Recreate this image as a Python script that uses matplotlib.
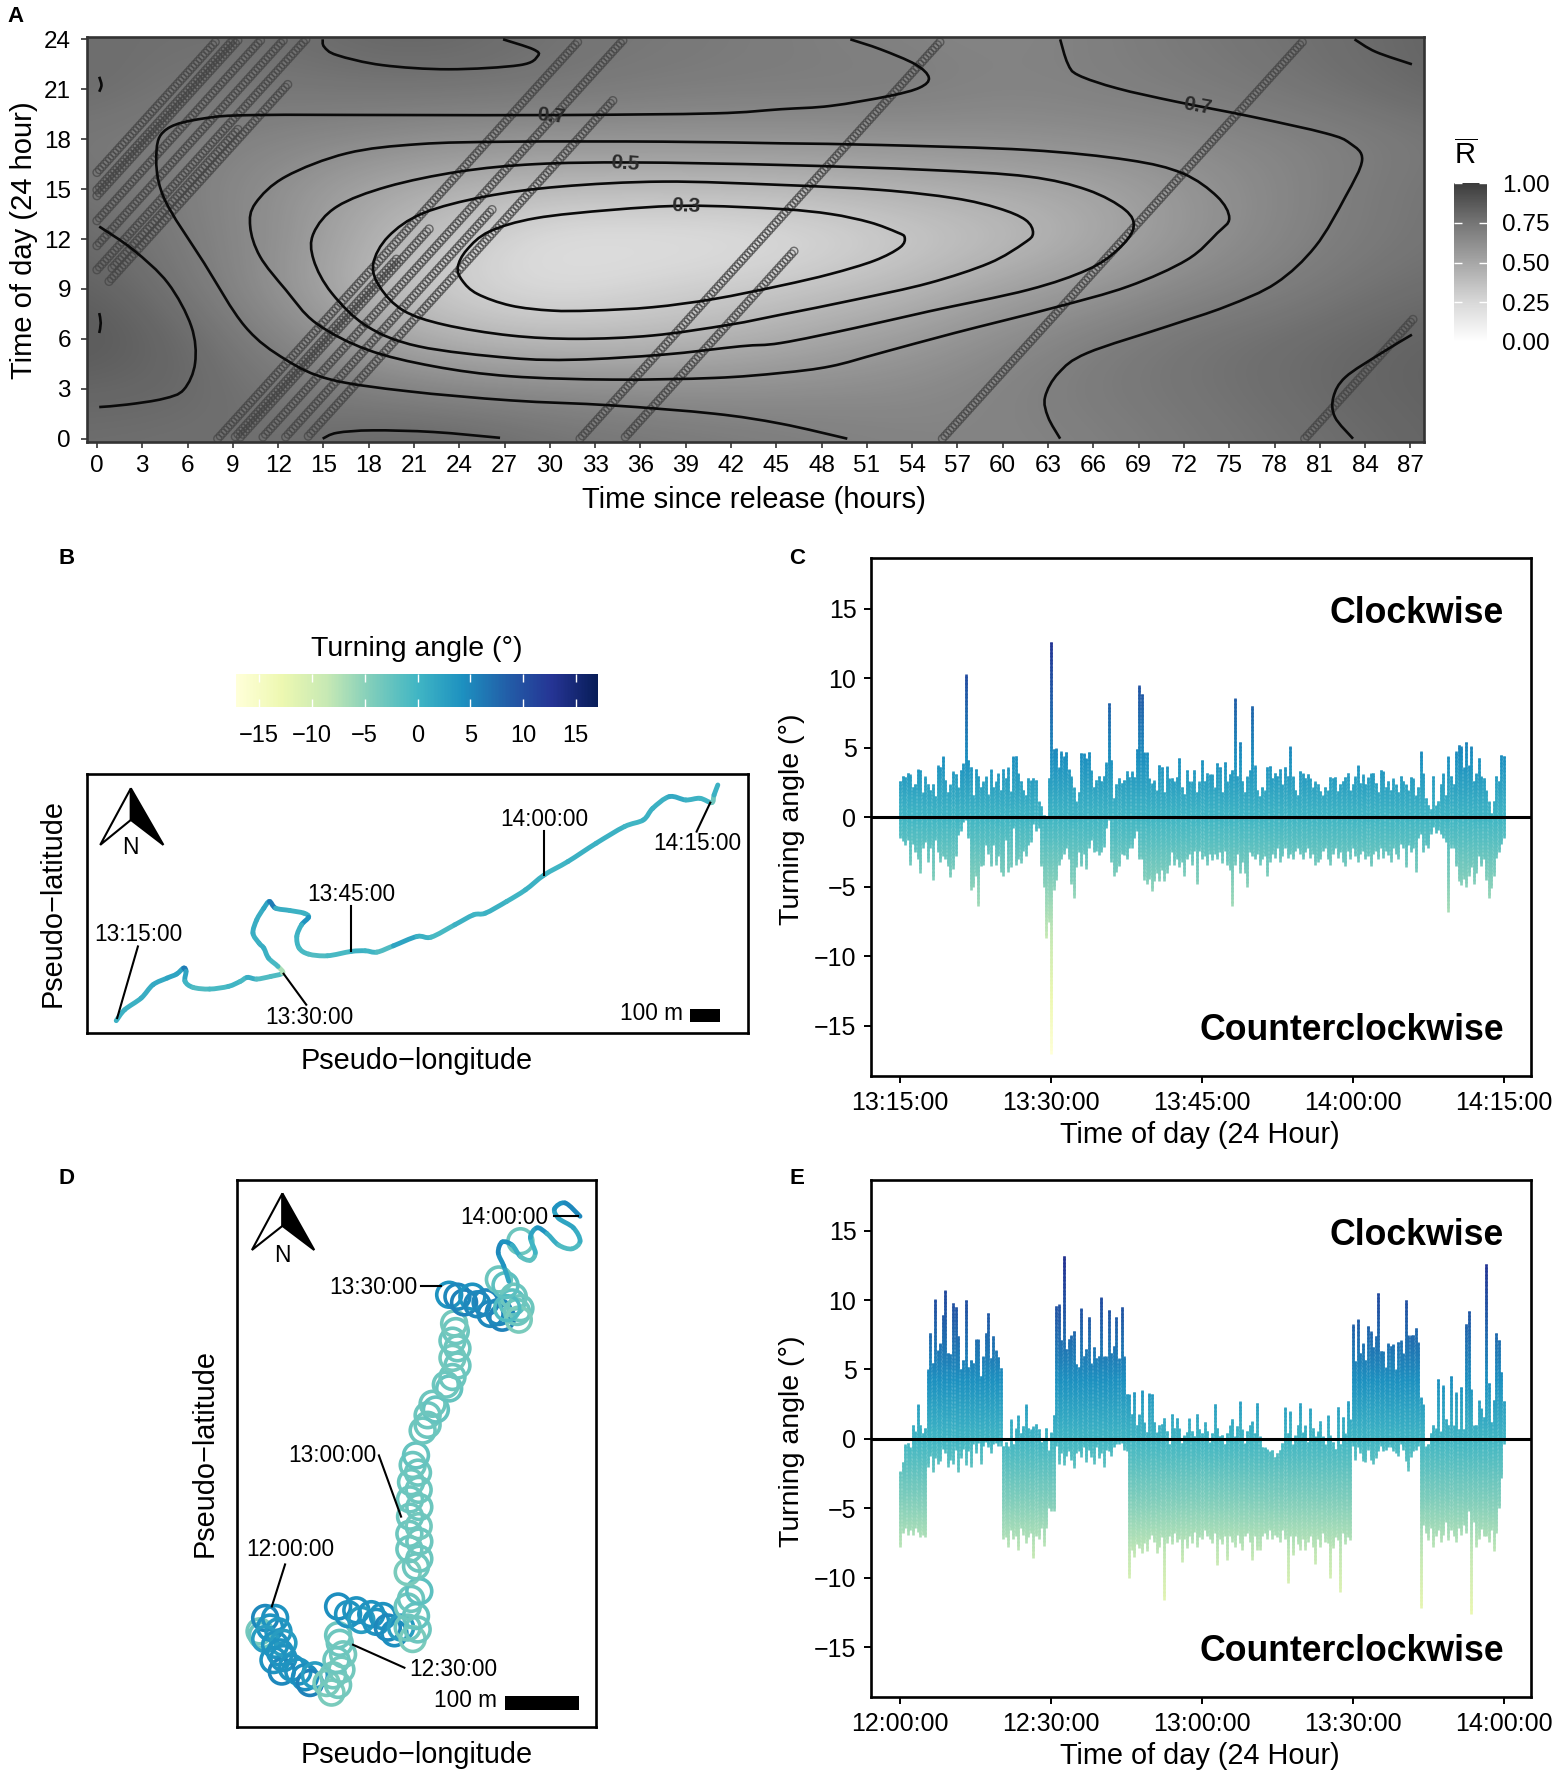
import numpy as np
import matplotlib
matplotlib.use('Agg')
import matplotlib.pyplot as plt
from matplotlib.path import Path
from matplotlib.patches import PathPatch, Polygon, Rectangle
from matplotlib.collections import LineCollection
from matplotlib.colors import LinearSegmentedColormap, Normalize
from matplotlib.cm import ScalarMappable

plt.rcParams['font.family'] = ['Liberation Sans', 'DejaVu Sans']
plt.rcParams['mathtext.fontset'] = 'custom'
plt.rcParams['mathtext.rm'] = 'Liberation Sans'
W, H = 1554, 1772

# ---------- Panel A data ----------
R_HOURS = [0, 6, 12, 18, 24, 30, 36, 42, 48, 54, 60, 66, 72, 78, 84, 90]
R_TOD = [0, 3, 6, 9, 12, 15, 18, 21, 24]
R_ROW0 = [.78, .77, .77, .81, .81, .76, .74, .72, .70, .68, .67, .69, .73, .76, .79, .83]
R_ROW3 = [.82, .81, .74, .70, .66, .65, .63, .62, .63, .64, .68, .72, .75, .78, .82, .84]
R_ROW6 = [.88, .80, .68, .54, .43, .39, .40, .44, .50, .56, .63, .70, .75, .78, .81, .84]
R_ROW9 = [.84, .74, .60, .41, .28, .22, .27, .31, .36, .42, .52, .58, .66, .70, .76, .79]
R_ROW12 = [.80, .71, .62, .45, .32, .20, .19, .20, .24, .32, .38, .47, .58, .66, .72, .76]
R_ROW15 = [.76, .70, .61, .50, .44, .39, .39, .39, .41, .44, .47, .50, .58, .65, .72, .76]
R_ROW18 = [.73, .70, .67, .64, .61, .60, .60, .60, .60, .61, .61, .63, .64, .67, .70, .74]
R_ROW21 = [.79, .74, .74, .75, .75, .74, .72, .71, .71, .71, .68, .69, .71, .74, .78, .82]
R_ROW24 = [.78, .77, .77, .81, .81, .76, .74, .72, .70, .68, .67, .69, .73, .76, .79, .83]

C03_X = [23.9, 24.2, 25.2, 27.4, 30.1, 32.8, 36.8, 40.9, 45.3, 48.6, 51.5, 53.2, 53.5, 53.0, 51.2, 48.6, 45.3, 39.2, 34.1, 29.05, 26, 24.5]
C03_Y = [10.3, 9.5, 8.7, 8.0, 7.7, 7.7, 7.9, 8.4, 9.2, 9.9, 10.7, 11.5, 12.1, 12.4, 13.0, 13.5, 13.8, 14.0, 13.75, 13.25, 12.45, 11.35]
C04_X = [18.3, 18.75, 20.3, 23.0, 27.4, 31.8, 36.8, 41.9, 45.3, 50.2, 55.1, 59.1, 61.4, 62.0, 61.5, 59.7, 56.8, 51.9, 45.3, 37.5, 30.7, 25.7, 21.6, 19.3]
C04_Y = [10.5, 9.1, 7.7, 6.85, 6.2, 6.0, 6.2, 6.85, 7.45, 8.35, 9.35, 10.55, 11.75, 12.35, 13.15, 13.85, 14.45, 14.95, 15.25, 15.45, 15.15, 14.55, 13.55, 12.15]
C05_X = [14.35, 14.35, 15.55, 17.9, 21.3, 27.4, 31.75, 37.5, 42.6, 45.3, 50.2, 55.1, 61.7, 65.6, 67.6, 68.65, 68.1, 65.6, 61.7, 55.1, 45.3, 35.5, 29.05, 24, 19.25, 15.9]
C05_Y = [12.35, 10.75, 8.75, 6.75, 5.55, 4.85, 4.75, 5.05, 5.55, 5.75, 6.65, 7.65, 8.95, 10.15, 11.35, 12.65, 13.75, 14.95, 15.75, 16.15, 16.45, 16.6, 16.5, 16.05, 15.15, 13.95]
C06_X = [10.15, 10.8, 12.5, 14.5, 17.9, 22.3, 27.4, 34.1, 40.9, 45.3, 48.6, 51.9, 56.8, 63.3, 68.3, 72.2, 74.2, 75, 74.2, 71.9, 68.3, 61.7, 51.9, 45.3, 37.5, 27.4, 21.3, 16.55, 12.5, 10.5]
C06_Y = [12.75, 10.95, 8.95, 6.95, 5.35, 4.35, 3.75, 3.55, 3.65, 3.95, 4.35, 5.15, 6.35, 7.85, 9.15, 10.75, 12.35, 13.25, 14.55, 15.95, 16.75, 17.35, 17.65, 17.75, 17.85, 17.85, 17.7, 17.15, 15.75, 14.15]
C07A_X = [49.9, 51.9, 54.2, 55.1, 54.5, 52.5, 48.6, 45.3, 40.9, 30.7, 20.6, 10.5, 7.1, 4.7, 3.95, 4.4, 7.1, 9.8, 12.5, 15.5, 20.6, 27.4, 34.1, 40.9, 45.3, 49.7]
C07A_Y = [24, 23.4, 22.5, 21.7, 21.1, 20.6, 20, 19.8, 19.55, 19.45, 19.45, 19.45, 19.25, 18.65, 17.35, 14.55, 10.55, 6.75, 4.75, 3.55, 2.85, 2.3, 2.0, 1.5, 0.9, 0.0]
C07B_X = [63.8, 64.3, 65, 67.6, 71.5, 76.5, 81.4, 83, 83.8, 82.7, 80.7, 78.1, 74.8, 70.9, 65.6, 63.7, 62.8, 63, 63.8]
C07B_Y = [24, 22.55, 21.85, 21.05, 20.25, 19.35, 18.35, 17.75, 16.75, 14.55, 11.55, 9.35, 7.95, 6.75, 5.15, 3.95, 2.5, 1.3, 0]
C08A_X = [87.1, 85, 82.7, 81.9, 82, 83.2]
C08A_Y = [6.25, 5.1, 3.7, 2.5, 1.3, 0]
C08B_X = [83.3, 84.7, 87.1]
C08B_Y = [24, 23.25, 22.5]
C08C_X = [0.15, 2.4, 4.7, 6.25, 6.5, 5.75, 4.4, 2.0, 0.15]
C08C_Y = [12.75, 11.35, 9.35, 6.75, 4.55, 2.95, 2.4, 2.05, 1.9]
C08D_X = [14.95, 15.05, 15.9, 18.9, 23.3, 28, 29.2, 28.9, 26.9]
C08D_Y = [24, 23.55, 23.05, 22.45, 22.2, 22.45, 23, 23.4, 24]
C08E_X = [14.95, 15.9, 18.25, 22.3, 26.7]
C08E_Y = [0, 0.35, 0.5, 0.4, 0.05]
C09A_X = [0.15, 0.3, 0.15]
C09A_Y = [21.75, 21.25, 20.85]
C09B_X = [0.15, 0.25, 0.15]
C09B_Y = [7.55, 6.95, 6.35]
CLOSED = [(C03_X, C03_Y), (C04_X, C04_Y), (C05_X, C05_Y), (C06_X, C06_Y)]
OPEN = [(C07A_X, C07A_Y), (C07B_X, C07B_Y), (C08A_X, C08A_Y), (C08B_X, C08B_Y), (C08C_X, C08C_Y),
        (C08D_X, C08D_Y), (C08E_X, C08E_Y), (C09A_X, C09A_Y), (C09B_X, C09B_Y)]

TRACK_OFFSET = [16, 14.6, 14.95, 13.1, 11.6, 10.15, 8.65, 9.25]
TRACK_START = [0, 0, 0, 0, 0, 0, 0.8, 1]
TRACK_END = [87.3, 22.1, 19.9, 46.2, 26.2, 34.3, 12.8, 9.5]

# ---------- Panel B data (traced map units) ----------
B_LON = [182, 200, 235, 260, 290, 310, 325, 330, 328, 345, 380, 420, 445, 460, 480, 510, 535, 525, 505, 495, 485, 472, 480, 495, 507, 520, 550, 580, 590, 575, 565, 570, 590, 630, 680, 710, 735, 770, 820, 850, 900, 940, 965, 1010, 1050, 1090, 1140, 1200, 1260, 1300, 1320, 1355, 1390, 1420, 1445, 1450, 1458]
B_LAT = [1203, 1170, 1135, 1095, 1075, 1063, 1045, 1055, 1085, 1103, 1108, 1100, 1085, 1073, 1078, 1070, 1060, 1040, 1015, 985, 970, 940, 900, 865, 845, 865, 872, 880, 892, 915, 950, 985, 1003, 1008, 995, 993, 997, 978, 950, 952, 915, 885, 880, 845, 810, 765, 725, 670, 620, 600, 565, 530, 540, 535, 548, 525, 495]
B_ANGLE = [0.5, 0.5, 1, 1.5, 2, 2, 6, 2, 0, -1, -0.5, 0, -0.5, 1, -1, -1, -7, -0.5, 0.5, 1, 0.5, 1, 1, 2, 6, 1, 0.5, 0.5, 4, 0.5, 0, -0.5, -1, -0.5, 0.5, 0, -1, 2, 0.5, -0.5, 0.5, 0, 0.5, 0, 0.5, 0, 0.5, 0.5, 0, 0.5, 0.5, 1.5, 0.5, 0, -3, 0.5, 0.5]
B_LABELS = ['13:15:00', '13:30:00', '13:45:00', '14:00:00', '14:15:00']
B_LABEL_X = [228, 592, 680, 1090, 1415]
B_LABEL_Y = [945, 1193, 825, 600, 670]
B_LEAD_X0 = [228, 585, 680, 1090, 1413]
B_LEAD_Y0 = [980, 1155, 858, 632, 635]
B_LEAD_X1 = [184, 537, 680, 1090, 1442]
B_LEAD_Y1 = [1195, 1062, 995, 765, 548]

# ---------- Panel C data: extremes of turning angle per quarter minute from 13:15 ----------
C_HI = [2.6, 3.0, 2.9, 3.2, 3.1, 2.2, 2.4, 3.5, 3.4, 1.8, 3.0, 2.4, 2.0, 2.4, 1.5, 3.8,
        3.6, 4.4, 2.7, 1.8, 2.4, 3.3, 3.1, 2.2, 3.4, 3.9, 10.3, 4.1, 3.6, 1.6, 3.5, 3.0,
        2.2, 2.6, 3.0, 1.7, 3.5, 2.2, 2.6, 3.2, 2.0, 3.5, 2.8, 3.6, 1.9, 4.4, 4.4, 3.2,
        2.6, 2.0, 1.6, 2.8, 2.7, 2.8, 2.7, 1.2, 0.8, 0.2, 0.1, 2.8, 12.6, 4.9, 5.0, 3.6,
        4.8, 4.4, 4.7, 3.5, 3.0, 2.2, 1.2, 1.8, 4.6, 4.6, 4.3, 4.7, 3.4, 2.2, 2.7, 3.0,
        2.6, 3.0, 4.0, 8.2, 4.1, 1.4, 2.4, 2.8, 2.5, 2.7, 3.3, 2.9, 3.3, 2.9, 4.9, 9.5,
        8.9, 4.7, 4.7, 2.8, 2.5, 2.7, 2.0, 3.8, 3.6, 1.8, 3.7, 2.8, 2.8, 2.6, 2.9, 4.3,
        2.2, 1.7, 3.4, 2.6, 2.6, 3.4, 1.8, 2.6, 4.1, 2.6, 3.2, 3.1, 3.1, 2.2, 3.9, 3.6,
        1.8, 4.0, 2.6, 3.1, 3.4, 8.6, 3.0, 5.4, 2.6, 1.8, 3.0, 3.4, 8.0, 3.8, 2.0, 1.5,
        2.2, 2.0, 3.6, 3.7, 2.8, 3.2, 3.0, 3.5, 2.4, 3.6, 3.0, 5.1, 3.0, 2.0, 1.6, 3.3,
        3.2, 2.8, 3.1, 2.8, 2.2, 2.6, 2.4, 1.9, 1.6, 2.2, 2.0, 2.9, 2.8, 2.9, 1.9, 2.4,
        2.6, 2.9, 3.2, 2.0, 2.4, 3.0, 3.8, 2.5, 3.1, 2.4, 2.9, 3.2, 3.2, 2.5, 1.8, 3.4,
        3.3, 2.2, 2.6, 2.0, 2.8, 2.4, 1.8, 3.0, 2.6, 2.4, 2.0, 2.9, 2.8, 1.6, 2.2, 4.8,
        3.2, 1.4, 0.9, 0.6, 3.0, 0.9, 1.2, 2.4, 3.2, 1.6, 4.4, 3.0, 2.4, 4.8, 5.2, 5.1,
        3.6, 5.4, 3.8, 5.1, 2.6, 3.2, 4.3, 3.0, 2.8, 2.0, 1.2, 0.3, 1.2, 3.0, 2.6, 4.5, 4.4]
C_LO = [-1.5, -1.7, -2.0, -1.6, -3.4, -1.9, -2.5, -3.0, -4.0, -2.2, -1.8, -3.2, -2.2, -4.5, -1.6, -2.5,
        -3.2, -2.8, -3.0, -3.5, -4.3, -3.7, -2.8, -1.3, -1.0, -0.3, -0.2, -1.5, -5.2, -5.0, -4.2, -6.4,
        -3.5, -3.4, -2.0, -2.6, -3.5, -2.0, -3.4, -2.8, -3.9, -4.2, -1.6, -3.9, -3.6, -0.8, -3.4, -3.0,
        -3.3, -2.4, -2.8, -2.0, -1.8, -0.5, -1.0, -0.8, -3.5, -5.0, -8.7, -7.5, -17.0, -5.2, -4.5, -3.4,
        -3.0, -2.6, -2.2, -3.0, -4.8, -5.8, -3.6, -2.5, -3.5, -2.6, -3.7, -2.2, -1.6, -2.5, -2.4, -2.7,
        -2.5, -2.1, -0.8, -0.2, -3.2, -4.2, -3.9, -3.5, -2.6, -2.7, -3.0, -2.2, -2.2, -1.5, -1.0, -3.0,
        -3.0, -4.5, -4.8, -4.4, -5.3, -4.6, -4.0, -4.6, -3.8, -4.6, -4.0, -3.4, -2.5, -3.4, -3.0, -3.6,
        -3.2, -4.2, -3.0, -2.6, -3.4, -2.4, -4.8, -2.4, -3.0, -2.8, -3.4, -2.6, -3.1, -2.6, -3.0, -2.5,
        -3.3, -2.4, -3.4, -3.8, -6.4, -3.4, -2.6, -4.0, -3.2, -4.0, -5.0, -2.5, -2.8, -3.0, -2.6, -3.4,
        -3.0, -2.8, -4.2, -3.2, -2.6, -2.9, -2.2, -3.2, -2.8, -2.2, -2.9, -2.6, -3.0, -2.4, -2.2, -2.6,
        -3.0, -2.5, -2.2, -2.9, -2.6, -3.4, -3.2, -3.0, -2.4, -2.2, -3.0, -3.4, -2.6, -2.2, -2.9, -2.5,
        -3.2, -3.5, -2.4, -3.0, -2.2, -2.8, -3.2, -2.6, -2.4, -3.0, -2.8, -3.5, -2.6, -2.4, -3.0, -2.2,
        -2.9, -2.4, -2.7, -3.2, -2.2, -2.6, -3.0, -1.9, -2.2, -3.6, -2.0, -2.5, -2.2, -3.9, -1.5, -1.2,
        -2.5, -2.0, -2.2, -1.2, -0.7, -1.1, -0.9, -1.2, -1.5, -1.8, -6.8, -2.2, -2.2, -3.5, -4.6, -4.9,
        -4.4, -5.0, -4.2, -3.6, -4.8, -4.0, -2.8, -3.5, -3.0, -4.5, -5.8, -5.1, -4.2, -2.9, -2.5, -1.9, -1.5]
C_TICKS = ['13:15:00', '13:30:00', '13:45:00', '14:00:00', '14:15:00']

# ---------- Panel D data (traced map units) ----------
D_RING_LON = [118, 125, 135, 165, 150, 175, 135, 165, 190, 160, 190, 185, 215, 235, 255, 270, 285, 180,
              320, 335, 355, 340, 365, 350, 370, 360, 355,
              355, 385, 410, 425, 455, 470, 490, 505, 525, 545,
              565, 580, 595, 590, 565, 575, 600, 565, 590, 600, 570, 600, 570, 598, 572, 600, 572, 598, 575, 596, 580, 590,
              610, 625, 625, 650, 640, 690, 680, 700, 715, 700, 715, 700, 710, 705,
              690, 715, 735, 760, 775, 800, 815, 850, 840,
              880, 895, 885, 905, 900, 865, 840, 905, 860]
D_RING_LAT = [1205, 1215, 1170, 1170, 1195, 1205, 1225, 1240, 1235, 1280, 1275, 1310, 1300, 1310, 1325, 1340, 1320, 1260,
              1340, 1365, 1345, 1320, 1305, 1280, 1265, 1235, 1215,
              1140, 1160, 1150, 1175, 1160, 1180, 1165, 1195, 1210, 1195,
              1195, 1225, 1200, 1165, 1140, 1120, 1100, 1050, 1035, 1015, 990, 970, 950, 930, 905, 880, 860, 835, 815, 790, 770, 745,
              680, 665, 640, 625, 610, 570, 560, 540, 510, 490, 465, 445, 420, 400,
              325, 330, 345, 330, 350, 345, 375, 385, 370,
              345, 370, 330, 360, 390, 360, 285, 185, 300]
D_RING_ANGLE = [-3.5, -3, 5, 4, 4, 3.5, 3, 4, 3, 4, 4, 5, 4, 4, 4.5, 5.5, 3, 4,
                -4, -4, -3.5, -3.5, -3.5, -3, -3.5, -3, -3,
                4.5, 4, 4, 3, 4, 4, 4, 5, 4.5, 3,
                -3, -4, -3, -2.5, -3, -3, -2, -4, -3, -3, -3, -3, -3, -3.5, -3, -3, -3, -3, -3, -3, -3, -2.5,
                -3, -3, -3, -2.5, -3, -2.5, -3, -3, -3, -3.5, -3, -3, -3, -3.5,
                4, 5, 5.5, 4, 5, 5, 5, 5.5, 5,
                -2, -3, -3, -3, -4, -1, -3, -3, -2]
D_TAIL_LON = [870, 855, 838, 850, 880, 905, 935, 950, 935, 955, 985, 1020, 1060, 1085, 1065, 1020, 1008, 1040, 1085]
D_TAIL_LAT = [290, 250, 215, 187, 195, 225, 235, 215, 175, 150, 165, 195, 205, 185, 150, 125, 100, 85, 120]
D_TAIL_ANGLE = [2, 4, 5, 4, 1, -2, -2, 0, 2, 4, 1, -1, -1, 1, 2, 2, 4, 5, 4]
D_LABELS = ['14:00:00', '13:30:00', '13:00:00', '12:00:00', '12:30:00']
D_LABEL_X = [857, 460, 337, 210, 702]
D_LABEL_Y = [122, 305, 745, 990, 1305]
D_LEAD_X0 = [1005, 605, 478, 195, 555]
D_LEAD_Y0 = [120, 303, 745, 1030, 1300]
D_LEAD_X1 = [1080, 665, 545, 155, 400]
D_LEAD_Y1 = [120, 303, 905, 1140, 1240]

# ---------- Panel E data: extremes of turning angle per half minute from 12:00 ----------
E_HI = [-2.3, -1.7, -0.4, -0.3, -0.6, 1.0, 0.6, 2.5, 1.0, 0.4, 0.8, 5.0, 7.6, 5.5, 10.1, 6.4, 6.9, 8.9, 10.7, 6.2,
        6.1, 9.8, 9.5, 7.4, 5.0, 5.7, 10.0, 5.2, 5.7, 5.5, 7.2, 7.2, 4.5, 6.0, 7.6, 9.1, 5.8, 7.4, 6.4, 5.9,
        5.1, -0.5, -0.2, -0.5, 1.4, -0.4, 0.8, 1.7, 0.4, 0.9, 2.5, 0.8, 0.7, 0.9, 1.1, 0.7, -0.2, -0.1, 0.8, -0.8,
        0.5, 1.7, 9.6, 9.7, 7.1, 13.2, 6.5, 7.2, 7.5, 7.8, 5.4, 5.2, 9.4, 6.0, 6.5, 8.8, 5.5, 6.6, 5.8, 6.0,
        10.2, 6.0, 6.0, 9.3, 6.2, 6.7, 8.8, 5.8, 9.5, 6.0, 3.2, 3.2, 1.8, 3.4, 1.0, 1.8, 3.5, 1.2, 0.5, 3.3,
        3.2, 1.2, 0.5, 1.0, 1.1, 1.5, 0.6, -0.4, 1.8, 0.8, 1.5, 0.8, -0.3, 0.3, 0.5, 1.5, 0.6, 0.2, 1.8, 0.7,
        0.4, 1.2, 0.6, -0.2, 0.4, 2.5, 0.8, 0.2, 0.3, -0.4, 0.4, 1.0, 1.4, 0.2, 0.9, 2.7, 0.7, -0.3, 0.6, 1.0,
        1.3, 0.4, 2.6, 0.2, -0.6, -0.6, -0.7, -0.9, -0.8, -1.3, -1.0, -0.8, -0.3, 2.3, 0.4, 2.0, -0.4, 0.3, 1.0, 2.6,
        0.5, 1.0, -0.2, 2.2, 0.8, 0.2, 0.6, 1.3, 0.2, -0.4, 1.7, 0.3, -0.2, -0.7, 2.3, -0.4, 1.6, 0.4, 2.7, 1.4,
        8.3, 5.6, 8.6, 6.2, 6.9, 5.7, 8.1, 7.8, 6.6, 7.4, 10.5, 6.3, 6.3, 5.2, 6.9, 6.7, 6.8, 5.0, 7.0, 7.1,
        6.2, 10.0, 7.5, 7.5, 7.5, 8.0, 7.0, 3.0, 2.5, -0.5, -0.4, 0.4, 1.0, 0.8, 4.3, 0.6, 3.9, 1.4, 1.0, 4.5,
        1.0, 3.4, 0.7, 3.7, 0.7, 8.3, 9.2, 3.6, 1.0, 1.0, 2.8, 2.2, 1.6, 12.6, 4.0, 1.2, 2.8, 7.6, 7.1, 4.8,
        2.7]
E_LO = [-7.8, -6.8, -6.4, -6.9, -6.6, -6.9, -6.4, -6.7, -7.1, -6.9, -7.1, -2.0, -1.2, -2.4, -1.4, -1.8, -1.6, -0.7, -1.0, -2.0,
        -1.5, -1.8, -0.8, -2.4, -1.4, -0.7, -1.9, -0.9, -2.0, -0.4, -1.0, -0.3, -1.8, -0.5, -0.2, -0.6, -1.0, -0.4, -0.3, -0.5,
        -0.5, -7.2, -7.1, -7.8, -6.6, -7.2, -7.0, -8.0, -6.4, -6.9, -7.5, -7.1, -6.8, -8.6, -7.0, -7.2, -6.4, -7.7, -6.4, -5.0,
        -5.2, -5.2, -0.5, -1.8, -1.0, -1.9, -1.2, -0.9, -1.5, -2.1, -1.0, -0.9, -1.3, -0.6, -1.7, -0.8, -1.3, -1.8, -0.6, -1.4,
        -1.0, -2.0, -0.8, -0.9, -1.2, -0.6, -0.4, -0.4, -0.3, -0.8, -0.9, -10.0, -8.0, -8.5, -7.6, -7.9, -8.2, -7.5, -8.1, -7.2,
        -6.9, -7.4, -8.2, -7.8, -7.1, -11.6, -7.5, -7.0, -7.6, -6.8, -7.4, -7.2, -8.9, -7.2, -7.9, -7.0, -7.5, -6.7, -7.8, -7.1,
        -7.2, -6.6, -7.0, -7.2, -7.5, -6.8, -9.1, -7.2, -7.6, -7.0, -8.7, -7.0, -7.4, -7.8, -6.9, -7.5, -8.0, -7.0, -6.8, -7.4,
        -8.7, -7.0, -8.0, -8.0, -7.0, -6.8, -7.2, -6.6, -7.2, -6.9, -7.1, -7.4, -6.6, -7.2, -10.4, -7.0, -8.4, -7.0, -7.6, -8.0,
        -7.2, -8.0, -7.4, -7.0, -7.8, -9.0, -7.2, -7.8, -6.8, -7.4, -7.5, -10.0, -7.9, -7.1, -7.3, -11.0, -6.8, -7.6, -7.1, -7.3,
        -0.5, -1.5, -0.6, -1.0, -1.6, -1.7, -0.8, -1.5, -1.8, -1.4, -0.9, -0.5, -0.9, -0.8, -0.6, -0.6, -0.9, -1.0, -1.2, -0.4,
        -0.8, -1.6, -2.3, -1.3, -0.9, -0.8, -0.5, -12.2, -6.2, -6.8, -7.3, -6.4, -7.8, -7.0, -6.6, -7.4, -6.9, -6.0, -7.3, -6.6,
        -7.0, -7.4, -6.4, -6.9, -6.2, -6.8, -5.2, -12.6, -6.0, -7.8, -7.2, -6.5, -7.0, -7.0, -7.4, -6.6, -8.1, -6.8, -5.0, -2.8,
        -0.4]
E_TICKS = ['12:00:00', '12:30:00', '13:00:00', '13:30:00', '14:00:00']
ANGLE_TICKS = [-15, -10, -5, 0, 5, 10, 15]

# ---------- helpers ----------
def box(l, t, r, b):
    return fig.add_axes([l / W, 1 - b / H, (r - l) / W, (b - t) / H])

def ftext(x, y, s, **kw):
    kw.setdefault('ha', 'center')
    kw.setdefault('va', 'center')
    fig.text(x / W, 1 - y / H, s, **kw)

def smooth(xs, ys, closed=False):
    p = np.column_stack([xs, ys]).astype(float)
    n = len(p)
    if closed:
        p = np.vstack([p, p[0]])
    verts = [p[0]]
    codes = [Path.MOVETO]
    for i in range(len(p) - 1):
        if closed:
            p0, p3 = p[(i - 1) % n], p[(i + 2) % n]
        else:
            p0, p3 = p[max(i - 1, 0)], p[min(i + 2, n - 1)]
        verts += [p[i] + (p[i + 1] - p0) / 6, p[i + 1] - (p3 - p[i]) / 6, p[i + 1]]
        codes += [Path.CURVE4] * 3
    return Path(verts, codes)

fig = plt.figure(figsize=(W / 100, H / 100), dpi=100, facecolor='white')
grey = LinearSegmentedColormap.from_list('R', ['#ffffff', '#d8d8d8', '#a6a6a6', '#757575', '#3c3c3c'])
ylgn = plt.get_cmap('YlGnBu')
anorm = Normalize(-17.2, 17.1)
TICK_FS, LABEL_FS = 18, 21

# ---------- Panel A ----------
ax = box(87, 37, 1424, 442)
field = np.array([R_ROW0, R_ROW3, R_ROW6, R_ROW9, R_ROW12, R_ROW15, R_ROW18, R_ROW21, R_ROW24])
ax.imshow(field, cmap=grey, vmin=0, vmax=1, origin='lower', aspect='auto', interpolation='bicubic',
          extent=(R_HOURS[0] - 3, R_HOURS[-1] + 3, R_TOD[0] - 1.5, R_TOD[-1] + 1.5))
for off, s, e in zip(TRACK_OFFSET, TRACK_START, TRACK_END):
    hrs = np.arange(s, e, 1 / 6)
    ax.scatter(hrs, (hrs + off) % 24, s=32, facecolors='none', edgecolors=(.27, .27, .27, .72), linewidths=1.0, zorder=2)
for xs, ys in CLOSED:
    ax.add_patch(PathPatch(smooth(xs, ys, True), fc='none', ec='#0a0a0a', lw=1.9, zorder=3))
for xs, ys in OPEN:
    ax.add_patch(PathPatch(smooth(xs, ys), fc='none', ec='#0a0a0a', lw=1.9, zorder=3))
for x, y, s, rot in [(30.1, 19.4, '0.7', -6), (35, 16.55, '0.5', -4), (39, 14, '0.3', -2), (72.9, 20, '0.7', -10)]:
    ax.text(x, y, s, ha='center', va='center', rotation=rot, fontsize=15, fontweight='bold', color='#2b2b2b', zorder=4)
ax.set_xlim(-0.66, 87.9)
ax.set_ylim(-0.2, 24.14)
ax.set_xticks(np.arange(0, 88, 3))
ax.set_yticks(np.arange(0, 25, 3))
ax.tick_params(labelsize=17.5, length=4.5, width=1.2, color='#333333')
ax.tick_params(axis='x', pad=5)
ax.tick_params(axis='y', pad=7)
for s in ax.spines.values():
    s.set_linewidth(1.9)
    s.set_color('#333333')
ftext(754, 500, 'Time since release (hours)', fontsize=LABEL_FS)
ftext(24, 240, 'Time of day (24 hour)', fontsize=LABEL_FS, rotation=90)

cax = box(1454, 183, 1487, 342)
cb = fig.colorbar(ScalarMappable(Normalize(0, 1), grey), cax=cax, ticks=[0, .25, .5, .75, 1])
cb.outline.set_visible(False)
cax.set_yticklabels(['0.00', '0.25', '0.50', '0.75', '1.00'])
cax.tick_params(left=True, right=True, direction='in', color='white', length=6, width=1, labelsize=17.6, pad=11)
ftext(1466, 155, r'$\overline{\mathrm{R}}$', fontsize=21)

# ---------- Panel B colour bar ----------
bax = box(236, 674, 598, 707)
cb2 = fig.colorbar(ScalarMappable(anorm, ylgn), cax=bax, orientation='horizontal', ticks=ANGLE_TICKS)
cb2.outline.set_visible(False)
bax.tick_params(top=True, bottom=True, direction='in', color='white', length=6, width=1, labelsize=17, pad=13)
ftext(417, 649, 'Turning angle (°)', fontsize=20.5)

def coloured(ax, xs, ys, vals, lw):
    path = smooth(xs, ys)
    v = path.vertices
    for i, val in enumerate(vals[:-1]):
        seg = Path(v[3 * i:3 * i + 4], [Path.MOVETO, Path.CURVE4, Path.CURVE4, Path.CURVE4])
        ax.add_patch(PathPatch(seg, fc='none', ec=ylgn(anorm(val)), lw=lw, capstyle='round', zorder=3))

def map_panel(ax, lat_lim, lon_lim, north):
    ax.set_xlim(*lon_lim)
    ax.set_ylim(*lat_lim)
    ax.set_xticks([])
    ax.set_yticks([])
    for s in ax.spines.values():
        s.set_linewidth(1.9)
    ax_x, ax_y, lx, rx, by, ny, ty = north
    ax.add_patch(Polygon([(ax_x, ax_y), (lx, by), (ax_x, ny)], fc='white', ec='black', lw=1.5, zorder=5))
    ax.add_patch(Polygon([(ax_x, ax_y), (rx, by), (ax_x, ny)], fc='black', ec='black', lw=1.5, zorder=5))
    ax.text(ax_x, ty, 'N', ha='center', va='top', fontsize=16.5, zorder=5)

def leaders(ax, labels, lx, ly, x0, y0, x1, y1):
    for s, a, b in zip(labels, lx, ly):
        ax.text(a, b, s, ha='center', va='center', fontsize=16.3, zorder=6)
    for a, b, c, d in zip(x0, y0, x1, y1):
        ax.plot([a, c], [b, d], color='black', lw=1.5, zorder=6)

# ---------- Panel B map ----------
ax = box(87, 774, 748, 1033)
map_panel(ax, (1240, 462), (120, 1522), (213, 505, 148, 282, 675, 600, 648))
coloured(ax, B_LON, B_LAT, B_ANGLE, 3.5)
leaders(ax, B_LABELS, B_LABEL_X, B_LABEL_Y, B_LEAD_X0, B_LEAD_Y0, B_LEAD_X1, B_LEAD_Y1)
ax.text(1385, 1180, '100 m', ha='right', va='center', fontsize=16.3)
ax.add_patch(Rectangle((1398, 1168), 64, 40, fc='black', ec='none'))
ftext(53, 903, 'Pseudo−latitude', fontsize=20.8, rotation=90)
ftext(417, 1061, 'Pseudo−longitude', fontsize=20.8)

# ---------- Panel D map ----------
ax = box(237, 1180, 596, 1727)
map_panel(ax, (1455, 25), (50, 1133), (187, 60, 95, 283, 208, 145, 192))
rcol = ylgn(anorm(np.array(D_RING_ANGLE)))
ax.scatter(D_RING_LON, D_RING_LAT, s=320, facecolors='none', edgecolors=rcol, linewidths=2.6, zorder=3)
coloured(ax, D_TAIL_LON, D_TAIL_LAT, D_TAIL_ANGLE, 3.4)
leaders(ax, D_LABELS, D_LABEL_X, D_LABEL_Y, D_LEAD_X0, D_LEAD_Y0, D_LEAD_X1, D_LEAD_Y1)
ax.text(835, 1385, '100 m', ha='right', va='center', fontsize=16.3)
ax.add_patch(Rectangle((858, 1375), 225, 35, fc='black', ec='none'))
ftext(205, 1453, 'Pseudo−latitude', fontsize=20.8, rotation=90)
ftext(417, 1755, 'Pseudo−longitude', fontsize=20.8)

# ---------- Panels C and E ----------
def turning(ax, minutes, hi, lo, xlim, ticks, ticklabels):
    segs, vals = [], []
    dy = 0.25
    for m, h, l in zip(minutes, hi, lo):
        edges = np.append(np.arange(l, h, dy), h)
        for a, b in zip(edges[:-1], edges[1:]):
            segs.append([(m, a), (m, min(b + 0.15, h))])
            vals.append((a + b) / 2)
    lc = LineCollection(segs, cmap=ylgn, norm=anorm, linewidths=1.9, capstyle='butt')
    lc.set_array(np.array(vals))
    ax.add_collection(lc)
    ax.axhline(0, color='black', lw=2.2, zorder=3)
    ax.set_xlim(*xlim)
    ax.set_ylim(-18.6, 18.65)
    ax.set_xticks(ticks)
    ax.set_xticklabels(ticklabels)
    ax.set_yticks(ANGLE_TICKS)
    ax.tick_params(labelsize=TICK_FS, length=5, width=1.4, pad=5.5)
    for s in ax.spines.values():
        s.set_linewidth(1.9)
    tx = ticks[-1]
    ax.text(tx, 14.68, 'Clockwise', ha='right', va='center', fontsize=25.7, fontweight='bold')
    ax.text(tx, -15.32, 'Counterclockwise', ha='right', va='center', fontsize=25.7, fontweight='bold')

ax = box(871, 558, 1531, 1076)
turning(ax, np.linspace(0, 60, len(C_HI)), C_HI, C_LO, (-2.9, 62.7), [0, 15, 30, 45, 60], C_TICKS)
ax = box(871, 1180, 1531, 1697)
turning(ax, np.linspace(0, 120, len(E_HI)), E_HI, E_LO, (-5.8, 125.4), [0, 30, 60, 90, 120], E_TICKS)
ftext(1200, 1135, 'Time of day (24 Hour)', fontsize=20.8)
ftext(1200, 1756, 'Time of day (24 Hour)', fontsize=20.8)
ftext(792, 819, 'Turning angle (°)', fontsize=20.5, rotation=90)
ftext(792, 1441, 'Turning angle (°)', fontsize=20.5, rotation=90)

for s, x, y in [('A', 15, 17), ('B', 67, 558), ('C', 797, 558), ('D', 67, 1178), ('E', 797, 1178)]:
    ftext(x, y, s, fontsize=16, fontweight='bold')

fig.savefig('out.png', dpi=100)
